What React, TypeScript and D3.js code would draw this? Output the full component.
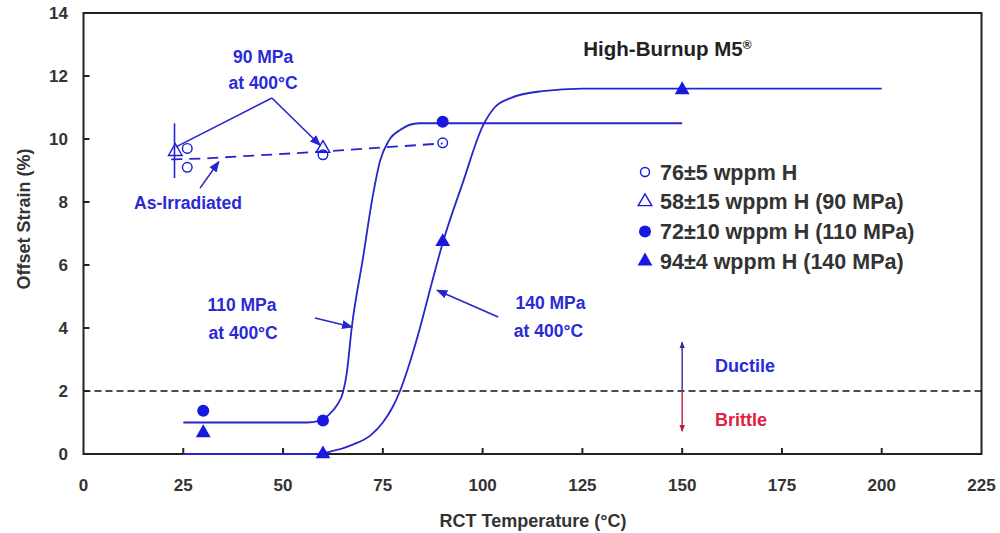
import React from "react";
import * as d3 from "d3";

// ---- data ----
const xTicks = [0, 25, 50, 75, 100, 125, 150, 175, 200, 225];
const yTicks = [0, 2, 4, 6, 8, 10, 12, 14];

const openCircles = [
  { t: 26, s: 9.7 },
  { t: 26, s: 9.1 },
  { t: 60, s: 9.5 },
  { t: 90, s: 9.88 },
];
const openTriangles = [
  { t: 23, s: 9.6 },
  { t: 60, s: 9.7 },
];
const filledCircles = [
  { t: 30, s: 1.37 },
  { t: 60, s: 1.06 },
  { t: 90, s: 10.55 },
];
const filledTriangles = [
  { t: 30, s: 0.67 },
  { t: 60, s: 0.0 },
  { t: 90, s: 6.74 },
  { t: 150, s: 11.56 },
];

const curve110: [number, number][] = [
  [25, 1], [56, 1], [59, 1.05], [61.5, 1.25], [63.5, 1.55], [65, 1.95], [66, 2.6],
  [67.2, 4.0], [70, 6.2], [72.5, 8.2], [74.3, 9.3], [76.5, 9.95], [79.5, 10.3],
  [84, 10.5], [90, 10.5], [150, 10.5],
];
const curve140: [number, number][] = [
  [25, 0], [58, 0], [62, 0.08], [67.5, 0.3], [72, 0.6], [75, 1.0], [77.5, 1.5],
  [79.3, 2.0], [82, 3.0], [84.3, 4.0], [87, 5.3], [90, 6.7], [95, 8.6],
  [100, 10.4], [103, 11.0], [107, 11.3], [115, 11.52], [125, 11.6], [200, 11.6],
];
const asIrradiated: [number, number][] = [
  [22, 9.35], [30, 9.38], [60, 9.6], [90, 9.86],
];
const errorBar = { t: 22.8, lo: 8.76, hi: 10.5 };

const legendLabels = [
  "76±5 wppm H",
  "58±15 wppm H (90 MPa)",
  "72±10 wppm H (110 MPa)",
  "94±4 wppm H (140 MPa)",
];

// ---- layout ----
const W = 1000;
const H = 533;
const x = d3.scaleLinear().domain([0, 225]).range([83.5, 981.5]);
const y = d3.scaleLinear().domain([0, 14]).range([454, 13]);

const BLUE = "#1818e0";
const LINE = "#2626cc";
const FONT = "Arial, 'Liberation Sans', sans-serif";

const line = d3
  .line<[number, number]>()
  .x((d) => x(d[0]))
  .y((d) => y(d[1]))
  .curve(d3.curveMonotoneX);
const straight = d3
  .line<[number, number]>()
  .x((d) => x(d[0]))
  .y((d) => y(d[1]));

const triSym = d3.symbol().type(d3.symbolTriangle).size(95)() as string;
const triSymOpen = d3.symbol().type(d3.symbolTriangle).size(80)() as string;

function Arrow({ from, to, head = true }: { from: [number, number]; to: [number, number]; head?: boolean }) {
  return (
    <line
      x1={x(from[0])}
      y1={y(from[1])}
      x2={x(to[0])}
      y2={y(to[1])}
      stroke={LINE}
      strokeWidth={1.6}
      markerEnd={head ? "url(#ah)" : undefined}
    />
  );
}

export default function App() {
  const tickFont = { fontFamily: FONT, fontWeight: 700, fontSize: 17, fill: "#333" } as const;
  const annFont = { fontFamily: FONT, fontWeight: 700, fontSize: 17.5, fill: "#2a2ad6" } as const;
  const legX = 645;
  const legY0 = 172;
  const legDy = 29.7;
  return (
    <svg width={W} height={H} style={{ position: "absolute", left: 0, top: 0, background: "#fff" }}>
      <defs>
        <marker id="ah" viewBox="0 0 10 10" refX="9" refY="5" markerWidth="7" markerHeight="7" orient="auto">
          <path d="M0,1 L10,5 L0,9 z" fill={LINE} />
        </marker>
        <marker id="ahB" viewBox="0 0 10 10" refX="9" refY="5" markerWidth="5" markerHeight="5" orient="auto">
          <path d="M0,1 L10,5 L0,9 z" fill="#2b2baa" />
        </marker>
        <marker id="ahR" viewBox="0 0 10 10" refX="9" refY="5" markerWidth="5" markerHeight="5" orient="auto">
          <path d="M0,1 L10,5 L0,9 z" fill="#c02040" />
        </marker>
      </defs>

      {/* ductile/brittle dashed line */}
      <line x1={x(0)} x2={x(225)} y1={y(2)} y2={y(2)} stroke="#111" strokeWidth={1.6} strokeDasharray="7,4" />

      {/* frame */}
      <rect x={x(0)} y={y(14)} width={x(225) - x(0)} height={y(0) - y(14)} fill="none" stroke="#222" strokeWidth={2} />

      {/* ticks */}
      {xTicks.map((t) => (
        <g key={"xt" + t}>
          {t > 0 && t < 225 && <line x1={x(t)} x2={x(t)} y1={y(0)} y2={y(0) - 6} stroke="#222" strokeWidth={2} />}
          <text x={x(t)} y={491} textAnchor="middle" {...tickFont}>
            {t}
          </text>
        </g>
      ))}
      {yTicks.map((v) => (
        <g key={"yt" + v}>
          {v > 0 && v < 14 && <line x1={x(0)} x2={x(0) + 6} y1={y(v)} y2={y(v)} stroke="#222" strokeWidth={2} />}
          <text x={68} y={y(v)} dy="0.36em" textAnchor="end" {...tickFont}>
            {v}
          </text>
        </g>
      ))}

      {/* axis titles */}
      <text x={533} y={527} textAnchor="middle" {...tickFont} fontSize={18}>
        RCT Temperature (°C)
      </text>
      <text
        transform={`translate(30,219) rotate(-90)`}
        textAnchor="middle"
        {...tickFont}
        fontSize={18}
      >
        Offset Strain (%)
      </text>

      {/* curves */}
      <path d={line(curve110) as string} fill="none" stroke={LINE} strokeWidth={1.8} />
      <path d={line(curve140) as string} fill="none" stroke={LINE} strokeWidth={1.8} />
      <path d={straight(asIrradiated) as string} fill="none" stroke={LINE} strokeWidth={1.8} strokeDasharray="11,7" />
      <line x1={x(errorBar.t)} x2={x(errorBar.t)} y1={y(errorBar.lo)} y2={y(errorBar.hi)} stroke={LINE} strokeWidth={1.6} />

      {/* markers */}
      {openCircles.map((d, i) => (
        <circle key={"oc" + i} cx={x(d.t)} cy={y(d.s)} r={4.8} fill="none" stroke={BLUE} strokeWidth={1.4} />
      ))}
      {openTriangles.map((d, i) => (
        <path key={"ot" + i} d={triSymOpen} transform={`translate(${x(d.t)},${y(d.s)})`} fill="none" stroke={BLUE} strokeWidth={1.4} />
      ))}
      {filledCircles.map((d, i) => (
        <circle key={"fc" + i} cx={x(d.t)} cy={y(d.s)} r={6} fill={BLUE} />
      ))}
      {filledTriangles.map((d, i) => (
        <path key={"ft" + i} d={triSym} transform={`translate(${x(d.t)},${y(d.s)})`} fill={BLUE} />
      ))}

      {/* annotations */}
      <text x={x(45)} y={y(12.6)} dy="0.36em" textAnchor="middle" {...annFont}>90 MPa</text>
      <text x={x(45)} y={y(11.78)} dy="0.36em" textAnchor="middle" {...annFont}>at 400°C</text>
      <Arrow from={[47.2, 11.3]} to={[23.2, 9.75]} head={false} />
      <Arrow from={[47.2, 11.3]} to={[59.3, 9.8]} />

      <text x={x(26.2)} y={y(7.97)} dy="0.36em" textAnchor="middle" {...annFont}>As-Irradiated</text>
      <Arrow from={[29.2, 8.44]} to={[33.9, 9.28]} />

      <text x={x(39.7)} y={y(4.73)} dy="0.36em" textAnchor="middle" {...annFont}>110 MPa</text>
      <text x={x(40)} y={y(3.84)} dy="0.36em" textAnchor="middle" {...annFont}>at 400°C</text>
      <Arrow from={[58, 4.32]} to={[67.3, 4.03]} />

      <text x={x(117)} y={y(4.8)} dy="0.36em" textAnchor="middle" {...annFont}>140 MPa</text>
      <text x={x(116.5)} y={y(3.9)} dy="0.36em" textAnchor="middle" {...annFont}>at 400°C</text>
      <Arrow from={[103.9, 4.35]} to={[88.6, 5.2]} />

      {/* title */}
      <text x={x(146.3)} y={y(12.86)} dy="0.36em" textAnchor="middle" fontFamily={FONT} fontWeight={700} fontSize={20.5} fill="#222">
        High-Burnup M5
        <tspan dy="-0.6em" fontSize={12}>®</tspan>
      </text>

      {/* ductile / brittle */}
      <line x1={x(150)} x2={x(150)} y1={y(2)} y2={y(3.55)} stroke="#2b2baa" strokeWidth={1.4} markerEnd="url(#ahB)" />
      <line x1={x(150)} x2={x(150)} y1={y(2)} y2={y(0.72)} stroke="#c02040" strokeWidth={1.4} markerEnd="url(#ahR)" />
      <text x={x(158.2)} y={y(2.8)} dy="0.36em" fontFamily={FONT} fontWeight={700} fontSize={18} fill="#2a2ad6">Ductile</text>
      <text x={x(158.2)} y={y(1.08)} dy="0.36em" fontFamily={FONT} fontWeight={700} fontSize={18} fill="#e0203c">Brittle</text>

      {/* legend */}
      {legendLabels.map((lab, i) => {
        const cy = legY0 + i * legDy;
        return (
          <g key={"lg" + i}>
            {i === 0 && <circle cx={legX} cy={cy} r={4.5} fill="none" stroke={BLUE} strokeWidth={1.4} />}
            {i === 1 && <path d={triSymOpen} transform={`translate(${legX},${cy})`} fill="none" stroke={BLUE} strokeWidth={1.4} />}
            {i === 2 && <circle cx={legX} cy={cy} r={6} fill={BLUE} />}
            {i === 3 && <path d={triSym} transform={`translate(${legX},${cy})`} fill={BLUE} />}
            <text x={legX + 15} y={cy} dy="0.36em" fontFamily={FONT} fontWeight={700} fontSize={21.5} fill="#333">
              {lab}
            </text>
          </g>
        );
      })}
    </svg>
  );
}
